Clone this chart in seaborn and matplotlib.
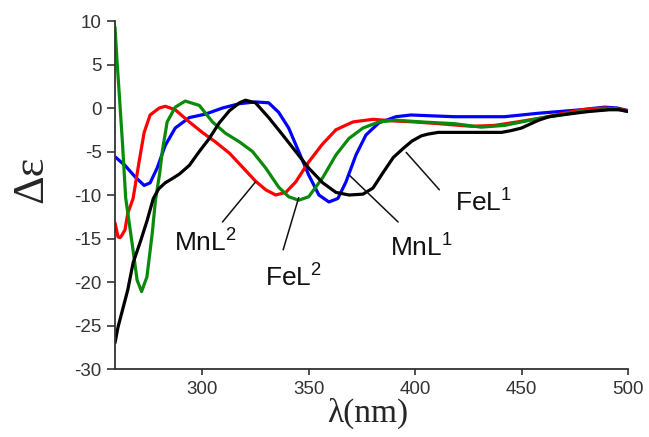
import pandas as pd
import seaborn as sns
import matplotlib.pyplot as plt

# CD spectra (wavelength in nm, delta epsilon)
fel1_x = [259, 260.4, 265, 267.5, 271, 274, 277, 279.5, 282.6, 286, 289.2, 293.9, 298.6,
          303.3, 308, 312.8, 317.5, 320.3, 325, 331.2, 337.8, 343.9, 350, 356.6, 362.8,
          369, 375.5, 380.2, 385, 389.7, 394.6, 398.5, 402.9, 406, 410.9, 418, 426.5,
          433, 440.6, 445, 450, 458, 463, 468.8, 475, 481.6, 491, 496, 500]
fel1_y = [-27, -25.2, -20.9, -17.8, -15.3, -13.0, -10.4, -9.3, -8.6, -8.1, -7.6, -6.6, -5.0,
          -3.5, -1.7, -0.3, 0.6, 0.9, 0.6, -1.1, -3.1, -5.0, -6.9, -8.6, -9.7,
          -10.0, -9.9, -9.2, -7.4, -5.7, -4.6, -3.8, -3.2, -3.0, -2.8, -2.8, -2.8,
          -2.8, -2.8, -2.6, -2.3, -1.4, -1.0, -0.8, -0.6, -0.4, -0.2, -0.2, -0.4]

mnl1_x = [259, 263.7, 268.4, 272.7, 275.5, 278.8, 282.6, 287.3, 293.9, 301.5, 309.5, 317.5,
          325, 331.2, 335.9, 340.6, 345.3, 350, 354.8, 359.5, 363.7, 367.5, 372.2, 376.9,
          383, 391, 398, 408, 418.4, 430, 442, 450, 458, 468, 478, 489, 495, 500]
mnl1_y = [-5.6, -6.6, -7.9, -8.9, -8.6, -6.9, -4.3, -2.3, -1.1, -0.7, 0.0, 0.5,
          0.7, 0.6, -0.5, -2.3, -5.0, -7.7, -10.0, -10.8, -10.4, -8.5, -5.4, -3.1,
          -1.7, -1.0, -0.8, -0.9, -1.0, -1.0, -1.0, -0.8, -0.6, -0.4, -0.2, 0.1, 0.0, -0.3]

mnl2_x = [259, 260.4, 261.4, 262.3, 263.7, 265, 267.5, 270.3, 272.7, 275.5, 279.8, 282.6,
          287.3, 293.9, 300, 306.2, 312.8, 318.9, 325, 329.8, 334.5, 339.2, 343.9, 350,
          356.3, 362.8, 370.8, 380.2, 391, 400, 410.9, 426.5, 437.3, 448, 458, 468, 478,
          489, 495, 500]
mnl2_y = [-13.2, -14.8, -14.9, -14.6, -14.0, -12.1, -10.4, -6.2, -2.8, -0.8, 0.0, 0.2,
          -0.2, -1.6, -2.8, -3.9, -5.2, -6.8, -8.4, -9.4, -10.0, -9.7, -8.5, -6.2,
          -4.2, -2.5, -1.6, -1.3, -1.5, -1.6, -1.8, -2.1, -2.0, -1.6, -1.2, -0.7, -0.2,
          0.0, -0.1, -0.3]

fel2_x = [259, 260, 261, 262.5, 264, 267, 269.4, 271.5, 274, 276.5, 278, 280, 281.2, 283.5,
          287.3, 292, 298.6, 304.8, 310.9, 317.5, 323.6, 329.8, 335.9, 340.6, 345.3, 350,
          356.6, 362.8, 368.9, 375.5, 383, 391, 403, 418.4, 431, 442, 450, 458, 468, 478,
          494, 500]
fel2_y = [9.3, 5.2, 1.6, -4.0, -10.3, -15.5, -19.8, -21.1, -19.4, -14.4, -10.6, -7.5, -5.0, -1.6,
          0.1, 0.8, 0.3, -1.6, -2.9, -3.9, -5.0, -6.9, -9.1, -10.2, -10.6, -10.2,
          -8.0, -5.4, -3.5, -2.3, -1.6, -1.4, -1.6, -1.8, -2.2, -2.0, -1.6, -1.2, -0.8, -0.4,
          -0.1, -0.4]

names = ['MnL1', 'MnL2', 'FeL2', 'FeL1']
colors = {'MnL1': '#0000ff', 'MnL2': '#ff0000', 'FeL2': '#0a8a0a', 'FeL1': '#000000'}

# labels with leader lines (text centre, line start, line end)
label_text = ['MnL$^2$', 'FeL$^2$', 'MnL$^1$', 'FeL$^1$']
label_pos = [(301.5, -15.5), (343, -19.5), (403, -16.1), (432, -10.9)]
leader_from = [(309.5, -13.1), (338, -16.3), (392, -13.1), (411.4, -9.4)]
leader_to = [(325, -8.5), (345.3, -10.3), (369, -7.7), (395.8, -5.1)]

series = {'FeL1': (fel1_x, fel1_y), 'MnL1': (mnl1_x, mnl1_y),
          'MnL2': (mnl2_x, mnl2_y), 'FeL2': (fel2_x, fel2_y)}
frames = []
for name, (xs, ys) in series.items():
    frames.append(pd.DataFrame({'wl': xs, 'de': ys, 'complex': name}))
data = pd.concat(frames, ignore_index=True)

sns.set_style('ticks')
plt.rcParams['font.family'] = ['Liberation Sans', 'DejaVu Sans']
plt.rcParams['axes.unicode_minus'] = False
plt.rcParams['mathtext.fontset'] = 'custom'
plt.rcParams['mathtext.rm'] = 'Liberation Sans'
plt.rcParams['mathtext.it'] = 'Liberation Sans'

fig = plt.figure(figsize=(6.49, 4.37), dpi=100)
ax = fig.add_axes([0.1772, 0.1556, 0.7904, 0.7963])

sns.lineplot(data=data, x='wl', y='de', hue='complex', hue_order=names, palette=colors,
             estimator=None, sort=False, lw=2.3, legend=False, ax=ax)

ax.set_xlim(259, 500)
ax.set_ylim(-30, 10)
ax.set_xticks([300, 350, 400, 450, 500])
ax.set_yticks(range(-30, 11, 5))
sns.despine(ax=ax)
for side in ['left', 'bottom']:
    ax.spines[side].set_linewidth(1.3)
    ax.spines[side].set_color('#333333')
ax.tick_params(axis='both', labelsize=13.5, colors='#333333', width=1.2)
ax.tick_params(axis='y', length=5.5, pad=4)
ax.tick_params(axis='x', length=4.5, pad=4)

ax.set_xlabel('λ(nm)', fontfamily='Liberation Serif', fontsize=24)
ax.set_ylabel('Δε', fontfamily='Liberation Serif', fontsize=32)
ax.xaxis.set_label_coords(0.493, -0.083)
ax.yaxis.set_label_coords(-0.125, 0.546)

for txt, pos, p0, p1 in zip(label_text, label_pos, leader_from, leader_to):
    ax.annotate('', xy=p1, xytext=p0,
                arrowprops=dict(arrowstyle='-', color='#111111', lw=1.1, shrinkA=0, shrinkB=0))
    ax.text(pos[0], pos[1], txt, ha='center', va='center', fontsize=19, color='#111111')

fig.savefig('out.png', dpi=100)
